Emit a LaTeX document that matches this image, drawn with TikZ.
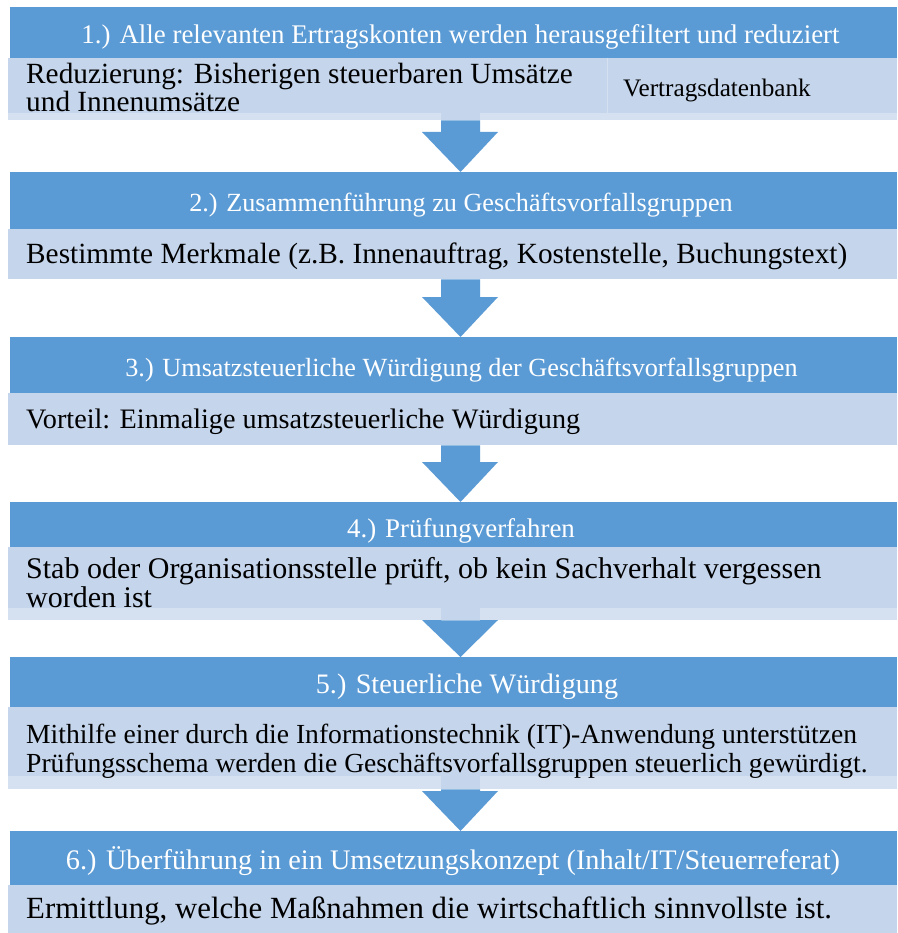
\documentclass[tikz,border=0pt]{standalone}
\usepackage{fontspec}
\setmainfont{Liberation Serif}
\usetikzlibrary{calc}
\definecolor{hdrblue}{HTML}{5B9BD5}
\definecolor{cntblue}{HTML}{C5D5EB}
\definecolor{stripblue}{HTML}{D5E0F1}
\newcommand\fsz[1]{\fontsize{#1}{#1}\selectfont}
\tikzset{
  hdrbox/.style={fill=hdrblue, draw=none, anchor=north west, inner sep=0pt, minimum width=887pt},
  cntbox/.style={fill=cntblue, draw=none, anchor=north west, inner sep=0pt, minimum width=889pt},
  hdrtext/.style={text=white, anchor=base, inner sep=0pt},
  cnttext/.style={text=black, anchor=base west, inner sep=0pt},
  arr/.style={fill=hdrblue, draw=none},
  stripfill/.style={fill=stripblue, draw=none},
}
\newcommand\blockarrow[3]{%
  \fill[arr] let \p1=(#1.south), \p2=(#2.north) in
    (441pt,\y1) -- (480pt,\y1) -- (480pt,\y2+#3pt) -- (498pt,\y2+#3pt)
    -- (460.5pt,\y2) -- (422pt,\y2+#3pt) -- (441pt,\y2+#3pt) -- cycle;}
\begin{document}
\begin{tikzpicture}[x=1pt,y=-1pt]
\useasboundingbox (0,0) rectangle (897,933);
\fill[white] (0,0) rectangle (897,933);

% boxes
\node[hdrbox, minimum height=51pt] (h1) at (10,7) {};
\node[cntbox, minimum height=62pt] (c1) at (8,58) {};
\node[hdrbox, minimum height=57pt] (h2) at (10,172) {};
\node[cntbox, minimum height=50pt] (c2) at (8,229) {};
\node[hdrbox, minimum height=56pt] (h3) at (10,337) {};
\node[cntbox, minimum height=52pt] (c3) at (8,393) {};
\node[hdrbox, minimum height=45pt] (h4) at (10,502) {};
\node[cntbox, minimum height=73pt] (c4) at (8,547) {};
\node[hdrbox, minimum height=50pt] (h5) at (10,657) {};
\node[cntbox, minimum height=82pt] (c5) at (8,707) {};
\node[hdrbox, minimum height=54pt] (h6) at (10,831) {};
\node[cntbox, minimum height=48pt] (c6) at (8,885) {};

% lighter strips at the bottom of the two-line content boxes
\fill[stripfill] (8,113) rectangle (441,120);
\fill[stripfill] (480,113) rectangle (897,120);
\fill[stripfill] (8,608) rectangle (441,620);
\fill[stripfill] (480,608) rectangle (897,620);
\fill[stripfill] (8,776) rectangle (441,789);
\fill[stripfill] (480,776) rectangle (897,789);
% divider in block 1
\draw[stripblue, line width=1.5pt] (607.5,58) -- (607.5,120);

% arrows
\blockarrow{c1}{h2}{40}
\blockarrow{c2}{h3}{40}
\blockarrow{c3}{h4}{40}
\blockarrow{c4}{h5}{37}
\blockarrow{c5}{h6}{40}

% header texts
\node[hdrtext, font=\fsz{26.9}] (h1t) at (460.5,43.5) {1.) Alle relevanten Ertragskonten werden herausgefiltert und reduziert};
\node[hdrtext, font=\fsz{26.2}] (h2t) at (461,211.5) {2.) Zusammenführung zu Geschäftsvorfallsgruppen};
\node[hdrtext, font=\fsz{26.2}] (h3t) at (461.5,376) {3.) Umsatzsteuerliche Würdigung der Geschäftsvorfallsgruppen};
\node[hdrtext, font=\fsz{26.9}] (h4t) at (461,537) {4.) Prüfungverfahren};
\node[hdrtext, font=\fsz{28.2}] (h5t) at (467,693) {5.) Steuerliche Würdigung};
\node[hdrtext, font=\fsz{28.3}] (h6t) at (453,869) {6.) Überführung in ein Umsetzungskonzept (Inhalt/IT/Steuerreferat)};

% content texts
\node[cnttext, font=\fsz{29.3}] (c1a) at (26,84) {Reduzierung: Bisherigen steuerbaren Umsätze};
\node[cnttext, font=\fsz{29.3}] (c1b) at (26,112) {und Innenumsätze};
\node[cnttext, font=\fsz{25.2}] (c1r) at (623,97) {Vertragsdatenbank};
\node[cnttext, font=\fsz{29.3}] (c2t) at (26,263) {Bestimmte Merkmale (z.B. Innenauftrag, Kostenstelle, Buchungstext)};
\node[cnttext, font=\fsz{28.2}] (c3t) at (26,428) {Vorteil: Einmalige umsatzsteuerliche Würdigung};
\node[cnttext, font=\fsz{30.0}] (c4a) at (26,578) {Stab oder Organisationsstelle prüft, ob kein Sachverhalt vergessen};
\node[cnttext, font=\fsz{30.0}] (c4b) at (26,607) {worden ist};
\node[cnttext, font=\fsz{27.6}] (c5a) at (26,743) {Mithilfe einer durch die Informationstechnik (IT)-Anwendung unterstützen};
\node[cnttext, font=\fsz{27.6}] (c5b) at (26,772) {Prüfungsschema werden die Geschäftsvorfallsgruppen steuerlich gewürdigt.};
\node[cnttext, font=\fsz{30.8}] (c6t) at (26,918) {Ermittlung, welche Maßnahmen die wirtschaftlich sinnvollste ist.};
\end{tikzpicture}
\end{document}
